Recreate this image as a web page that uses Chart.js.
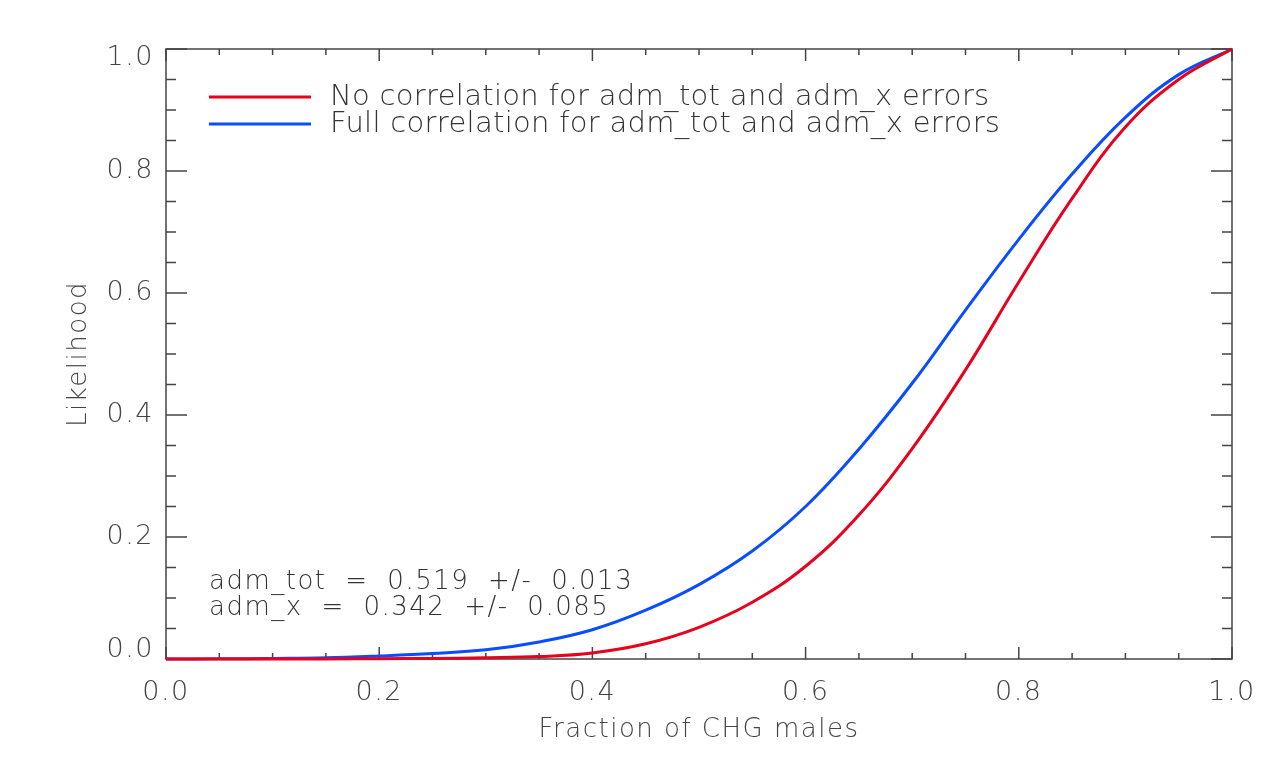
<!DOCTYPE html>
<html>
<head>
<meta charset="utf-8">
<style>
  html, body { margin: 0; padding: 0; background: #fff; }
  #wrap { width: 1280px; height: 764px; }
</style>
</head>
<body>
<div id="wrap"><canvas id="chart" width="1280" height="764"></canvas></div>
<script src="https://cdn.jsdelivr.net/npm/chart.js"></script>
<script>
// fraction of CHG males (x) and likelihood
const fractions = [0, 0.05, 0.10, 0.15, 0.20, 0.25, 0.30, 0.35, 0.40, 0.45, 0.50,
                   0.55, 0.60, 0.65, 0.70, 0.75, 0.80, 0.85, 0.90, 0.95, 1.00];
const noCorr   = [0, 0, 0, 0, 0.0005, 0.001, 0.002, 0.004, 0.010, 0.025, 0.052,
                  0.093, 0.152, 0.236, 0.345, 0.474, 0.618, 0.755, 0.872, 0.950, 1.0];
const fullCorr = [0, 0.0003, 0.001, 0.002, 0.005, 0.009, 0.015, 0.028, 0.048, 0.080, 0.122,
                  0.177, 0.250, 0.344, 0.452, 0.572, 0.688, 0.795, 0.888, 0.958, 1.0];
const yTickLabels = ['0.0', '0.2', '0.4', '0.6', '0.8', '1.0'];

const seriesNames = ['No correlation for adm_tot and adm_x errors',
                     'Full correlation for adm_tot and adm_x errors'];
const seriesColors = ['#e8001c', '#0a4dff'];
const noteLines = ['adm_tot = 0.519 +/- 0.013', 'adm_x = 0.342 +/- 0.085'];

const FONT = '"DejaVu Sans", sans-serif';
const INK = '#444';

const isMajor = v => Math.abs(v * 5 - Math.round(v * 5)) < 1e-6;

// frame with inward ticks on all four sides, IDL style
const framePlugin = {
  id: 'frame',
  beforeDraw(chart) {
    chart.ctx.letterSpacing = '1.5px';
  },
  beforeDatasetsDraw(chart) {
    const { ctx, chartArea: a, scales } = chart;
    ctx.save();
    ctx.strokeStyle = INK;
    ctx.lineWidth = 1.5;
    ctx.strokeRect(a.left, a.top, a.right - a.left, a.bottom - a.top);
    ctx.beginPath();
    scales.x.ticks.forEach(t => {
      const px = scales.x.getPixelForValue(t.value);
      const len = isMajor(t.value) ? 12 : 6;
      ctx.moveTo(px, a.bottom); ctx.lineTo(px, a.bottom - len);
      ctx.moveTo(px, a.top); ctx.lineTo(px, a.top + len);
    });
    scales.y.ticks.forEach(t => {
      const py = scales.y.getPixelForValue(t.value);
      const len = isMajor(t.value) ? 21 : 10;
      ctx.moveTo(a.left, py); ctx.lineTo(a.left + len, py);
      ctx.moveTo(a.right, py); ctx.lineTo(a.right - len, py);
    });
    ctx.stroke();

    // y tick labels, end ones pulled inside the frame
    ctx.font = '200 27px ' + FONT;
    ctx.fillStyle = INK;
    ctx.textAlign = 'right';
    ctx.textBaseline = 'middle';
    yTickLabels.forEach(lbl => {
      let py = scales.y.getPixelForValue(parseFloat(lbl));
      py = Math.min(Math.max(py, a.top + 9), a.bottom - 9);
      ctx.fillText(lbl, a.left - 12, py);
    });
    ctx.restore();
  },
  afterDraw(chart) {
    const { ctx, chartArea: a } = chart;
    ctx.save();
    ctx.fillStyle = '#333';
    ctx.textBaseline = 'middle';
    // legend
    ctx.font = '200 29px ' + FONT;
    ctx.letterSpacing = '0.3px';
    seriesNames.forEach((name, i) => {
      const y = a.top + 48 + i * 27;
      ctx.strokeStyle = seriesColors[i];
      ctx.lineWidth = 3;
      ctx.beginPath();
      ctx.moveTo(a.left + 43, y); ctx.lineTo(a.left + 145, y);
      ctx.stroke();
      ctx.fillText(name, a.left + 164, y);
    });
    // fit results
    ctx.font = '200 26px ' + FONT;
    ctx.letterSpacing = '1.5px';
    ctx.wordSpacing = '9px';
    noteLines.forEach((line, i) => {
      ctx.fillText(line, a.left + 43, a.top + 533 + i * 26);
    });
    ctx.restore();
  }
};

new Chart(document.getElementById('chart'), {
  type: 'line',
  data: {
    datasets: [noCorr, fullCorr].map((vals, i) => ({
      label: seriesNames[i],
      data: fractions.map((x, j) => ({ x: x, y: vals[j] })),
      borderColor: seriesColors[i],
      borderWidth: 3,
      pointRadius: 0,
      tension: 0.4,
      clip: false
    }))
  },
  options: {
    responsive: false,
    animation: false,
    layout: { padding: { top: 49, right: 48, left: 0, bottom: 0 } },
    plugins: { legend: { display: false }, tooltip: { enabled: false } },
    scales: {
      x: {
        type: 'linear', min: 0, max: 1,
        grid: { display: false, drawTicks: false },
        border: { display: false },
        ticks: {
          stepSize: 0.05, autoSkip: false, maxRotation: 0, padding: 18,
          color: INK, font: { family: FONT, size: 27, weight: 200 },
          callback: v => isMajor(v) ? v.toFixed(1) : ''
        },
        title: {
          display: true, text: 'Fraction of CHG males', color: INK,
          font: { family: FONT, size: 26, weight: 200 },
          padding: { top: 0, bottom: 18 }
        },
        afterFit: s => { s.height = 105; }
      },
      y: {
        min: 0, max: 1,
        grid: { display: false, drawTicks: false },
        border: { display: false },
        ticks: { stepSize: 0.05, display: false },
        title: {
          display: true, text: 'Likelihood', color: INK,
          font: { family: FONT, size: 26, weight: 200 },
          padding: { top: 64, bottom: 0 }
        },
        afterFit: s => { s.width = 166; }
      }
    }
  },
  plugins: [framePlugin]
});
</script>
</body>
</html>
